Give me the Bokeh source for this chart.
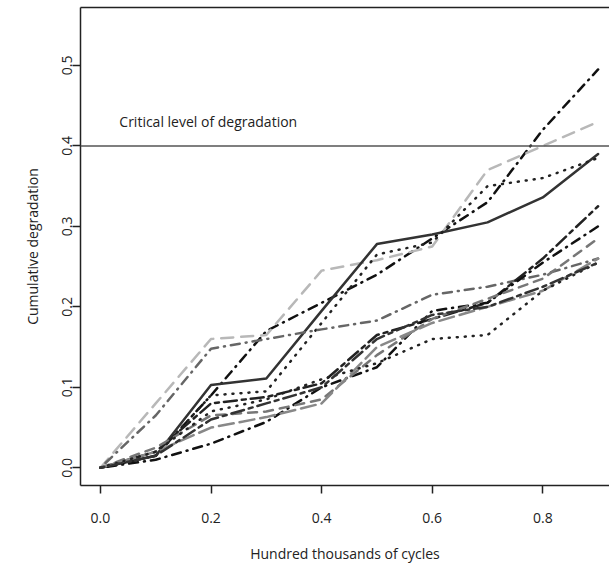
from bokeh.plotting import figure
from bokeh.models import Range1d, FixedTicker, PrintfTickFormatter, LinearAxis, Span
from bokeh.core.properties import value
from bokeh.embed import file_html
from bokeh.resources import INLINE

# ---- data ----
cycles = [0.0, 0.1, 0.2, 0.3, 0.4, 0.5, 0.6, 0.7, 0.8, 0.9]
unit_a = [0, 0.015, 0.090, 0.170, 0.205, 0.240, 0.285, 0.330, 0.420, 0.495]
unit_b = [0, 0.080, 0.160, 0.165, 0.245, 0.258, 0.275, 0.370, 0.400, 0.430]
unit_c = [0, 0.015, 0.103, 0.111, 0.195, 0.278, 0.290, 0.305, 0.336, 0.390]
unit_d = [0, 0.015, 0.090, 0.095, 0.180, 0.265, 0.280, 0.350, 0.360, 0.385]
unit_e = [0, 0.065, 0.148, 0.160, 0.172, 0.183, 0.215, 0.225, 0.240, 0.260]
unit_f = [0, 0.020, 0.080, 0.088, 0.105, 0.165, 0.185, 0.205, 0.260, 0.325]
unit_g = [0, 0.010, 0.030, 0.057, 0.100, 0.125, 0.195, 0.205, 0.255, 0.300]
unit_h = [0, 0.025, 0.065, 0.070, 0.085, 0.140, 0.185, 0.210, 0.235, 0.285]
unit_i = [0, 0.020, 0.050, 0.063, 0.080, 0.150, 0.180, 0.200, 0.220, 0.260]
unit_j = [0, 0.020, 0.070, 0.085, 0.110, 0.130, 0.160, 0.165, 0.220, 0.255]
unit_k = [0, 0.015, 0.060, 0.080, 0.100, 0.160, 0.190, 0.200, 0.225, 0.255]
critical_level = 0.4
critical_label = "Critical level of degradation"
x_ticks = [0.0, 0.2, 0.4, 0.6, 0.8]
y_ticks = [0.0, 0.1, 0.2, 0.3, 0.4, 0.5]

series = [unit_a, unit_b, unit_c, unit_d, unit_e, unit_f,
          unit_g, unit_h, unit_i, unit_j, unit_k]

# ---- styles (separate from data) ----
styles = [
    ("#111111", "1 6 9 6"),
    ("#b8b8b8", "12 8"),
    ("#333333", "solid"),
    ("#222222", "1 7"),
    ("#666666", "1 6 9 6"),
    ("#222222", "4 5 13 5"),
    ("#111111", "1 6 9 6"),
    ("#777777", "9 7"),
    ("#888888", "15 6"),
    ("#222222", "1 7"),
    ("#333333", "4 5 13 5"),
]

FONT = "Open Sans"
TXT = "#222222"

p = figure(width=609, height=565, output_backend="svg", toolbar_location=None,
           x_range=Range1d(-0.036, 0.9206), y_range=Range1d(-0.022, 0.572),
           min_border_left=80, min_border_right=0, min_border_top=7, min_border_bottom=78)
p.grid.visible = False
p.outline_line_color = None
p.background_fill_color = "white"
p.border_fill_color = "white"

for vals, (col, dash) in zip(series, styles):
    p.line(cycles, vals, line_color=col, line_width=2.5, line_dash=dash, line_cap="round", line_join="round")

p.add_layout(Span(location=critical_level, dimension="width", line_color="#555555", line_width=1.5))
p.text(x=[0.195], y=[0.43], text=[critical_label], text_font=value(FONT), text_font_size="14px",
       text_align="center", text_baseline="middle", text_color=TXT)

xa = p.xaxis[0]
xa.ticker = FixedTicker(ticks=x_ticks)
xa.formatter = PrintfTickFormatter(format="%.1f")
xa.axis_label = "Hundred thousands of cycles"
ya = p.yaxis[0]
ya.ticker = FixedTicker(ticks=y_ticks)
ya.formatter = PrintfTickFormatter(format="%.1f")
ya.axis_label = "Cumulative degradation"
ya.major_label_orientation = "vertical"

for ax in (xa, ya):
    ax.axis_line_color = "#222222"
    ax.axis_line_width = 1.5
    ax.major_tick_line_color = "#222222"
    ax.major_tick_line_width = 1.5
    ax.major_tick_out = 8
    ax.major_tick_in = 0
    ax.minor_tick_line_color = None
    ax.major_label_text_font = FONT
    ax.major_label_text_font_size = "14px"
    ax.major_label_text_color = TXT
    ax.axis_label_text_font = FONT
    ax.axis_label_text_font_size = "14px"
    ax.axis_label_text_font_style = "normal"
    ax.axis_label_text_color = TXT

xa.major_label_standoff = 19
xa.axis_label_standoff = 18
ya.major_label_standoff = 0
ya.axis_label_standoff = 18

top = LinearAxis(ticker=FixedTicker(ticks=[]), axis_line_color="#222222", axis_line_width=1.5,
                 major_tick_line_color=None, minor_tick_line_color=None,
                 major_label_text_font_size="0px")
p.add_layout(top, "above")

open("out.html", "w").write(file_html(p, INLINE))
